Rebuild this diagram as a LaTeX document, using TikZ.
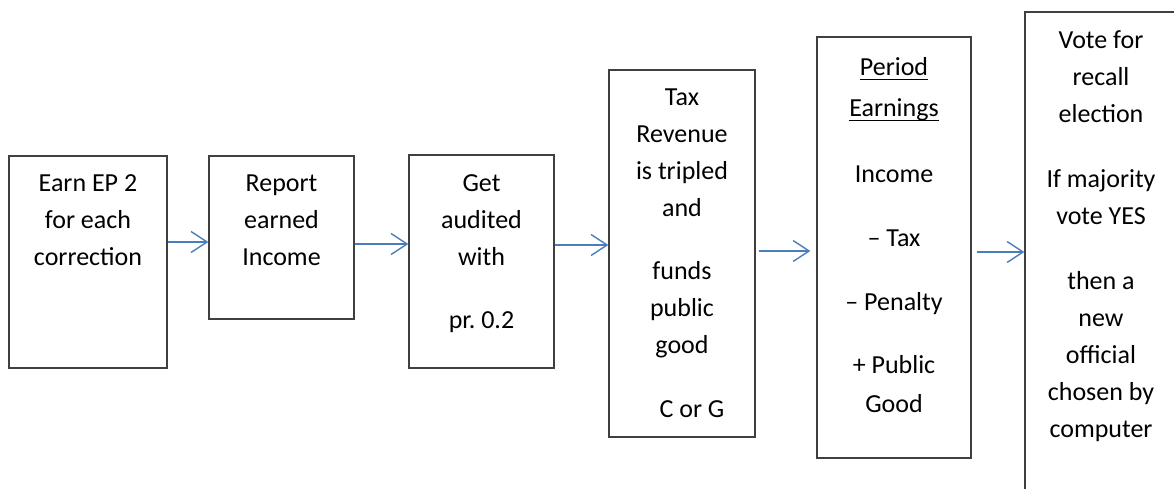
\documentclass[tikz,border=0pt]{standalone}
\usepackage{fontspec}
\setmainfont{Carlito}
\usepackage{tikz}
\usetikzlibrary{arrows.meta,positioning}

\definecolor{flowblue}{RGB}{74,126,187}
\definecolor{edgegray}{RGB}{64,64,64}
\newcommand{\undl}[1]{\setbox0=\hbox{#1}\rlap{\rule[-4.5pt]{\wd0}{1.4pt}}\box0}

\begin{document}
\begin{tikzpicture}[x=1pt,y=-1pt,
  box/.style={draw=edgegray,line width=1.3pt,inner sep=0pt},
  txt/.style={anchor=north,align=center,inner sep=0pt,font=\fontsize{26pt}{37pt}\selectfont},
  flow/.style={draw=flowblue,line width=1.4pt,-{Straight Barb[length=16pt,width=21pt,line width=1.4pt]}}]
\useasboundingbox (0,0) rectangle (1174,489);
% boxes
\node[box,minimum width=158pt,minimum height=212pt] (earn) at (88,262) {};
\node[box,minimum width=145pt,minimum height=163pt] (report) at (281.5,237.5) {};
\node[box,minimum width=145pt,minimum height=213pt] (audit) at (481.5,261.5) {};
\node[box,minimum width=146pt,minimum height=367pt] (revenue) at (682,253.5) {};
\node[box,minimum width=154pt,minimum height=421pt] (period) at (894,247.5) {};
\node[box,minimum width=152pt,minimum height=508pt] (vote) at (1101,266) {};
% texts
\node[txt,below=10pt of earn.north] (earn-txt) {\strut Earn EP 2\\for each\\correction};
\node[txt,below=10pt of report.north] (report-txt) {\strut Report\\earned\\Income};
\node[txt,below=11pt of audit.north] (audit-txt) {\strut Get\\audited\\with\\[26pt]pr.\ 0.2};
\node[txt,below=10pt of revenue.north] (revenue-txt) {\strut Tax\\Revenue\\is tripled\\and\\[26pt]funds\\public\\good\\[27pt]\hspace{20pt}C or G};
\node[txt,below=13pt of period.north] (period-txt) {\strut\undl{Period}\\[4pt]\undl{Earnings}\\[29pt]Income\\[27pt]– Tax\\[27pt]– Penalty\\[26pt]+ Public\\[2pt]Good};
\node[txt,below=11pt of vote.north] (vote-txt) {\strut Vote for\\recall\\election\\[28pt]If majority\\vote YES\\[28pt]then a\\new\\official\\chosen by\\computer};
% arrows
\draw[flow] (earn.east |- 0,242) -- (report.west |- 0,242);
\draw[flow] (report.east |- 0,244) -- (audit.west |- 0,244);
\draw[flow] (audit.east |- 0,245) -- (revenue.west |- 0,245);
\draw[flow,shorten <=3pt,shorten >=6pt] (revenue.east |- 0,251) -- (period.west |- 0,251);
\draw[flow,shorten <=5pt] (period.east |- 0,252) -- (vote.west |- 0,252);
\end{tikzpicture}
\end{document}
